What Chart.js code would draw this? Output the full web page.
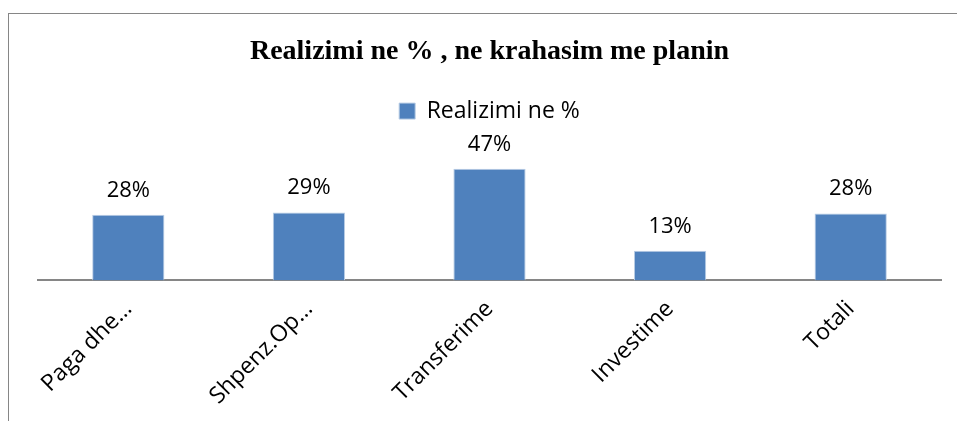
<!DOCTYPE html>
<html>
<head>
<meta charset="utf-8">
<script src="https://cdn.jsdelivr.net/npm/chart.js@4/dist/chart.umd.min.js"></script>
<style>
  html, body { margin: 0; padding: 0; background: #fff; }
  #wrap { position: relative; width: 957px; height: 421px; overflow: hidden; }
  /* chart frame: only top and left edges are inside the picture */
  #frame { position: absolute; left: 8px; top: 13px; width: 1000px; height: 500px;
           border-top: 1px solid #868686; border-left: 1px solid #868686; }
  #chart { position: absolute; left: 0; top: 0; }
</style>
</head>
<body>
<div id="wrap">
  <div id="frame"></div>
  <canvas id="chart" width="957" height="421"></canvas>
</div>
<script>
// ── data ──
const categories = ['Paga dhe…', 'Shpenz.Op…', 'Transferime', 'Investime', 'Totali'];
const realizimi = [27.6, 28.6, 47, 12.5, 28.2];
const seriesName = 'Realizimi ne %';
const chartTitle = 'Realizimi ne % , ne krahasim me planin';

const BAR = '#4f81bd';
const SANS = '"Open Sans", "Noto Sans", sans-serif';

// value labels above each bar
const barLabels = {
  id: 'barLabels',
  afterDatasetsDraw(chart) {
    const ctx = chart.ctx;
    const meta = chart.getDatasetMeta(0);
    ctx.save();
    ctx.font = '22px ' + SANS;
    ctx.fillStyle = '#000';
    ctx.textAlign = 'center';
    ctx.textBaseline = 'alphabetic';
    meta.data.forEach((bar, i) => {
      ctx.fillText(Math.round(realizimi[i]) + '%', bar.x, bar.y - 18);
    });
    ctx.restore();
  }
};

// extra room under the legend before the plot starts
const legendGap = {
  id: 'legendGap',
  beforeInit(chart) {
    const fit = chart.legend.fit;
    chart.legend.fit = function () {
      fit.call(this);
      this.height += 29;
    };
  }
};

new Chart(document.getElementById('chart'), {
  type: 'bar',
  data: {
    labels: categories,
    datasets: [{
      label: seriesName,
      data: realizimi,
      backgroundColor: BAR,
      borderColor: '#b9cde5',
      borderWidth: 1,
      categoryPercentage: 1,
      barPercentage: 0.4
    }]
  },
  options: {
    responsive: false,
    animation: false,
    layout: { padding: { left: 38, right: 16, top: 0, bottom: -4 } },
    plugins: {
      title: {
        display: true,
        text: chartTitle,
        color: '#000',
        font: { family: '"Liberation Serif", "Times New Roman", serif', size: 28, weight: 'bold' },
        padding: { top: 35, bottom: 25 }
      },
      legend: {
        display: true,
        labels: {
          color: '#000',
          font: { family: SANS, size: 23 },
          boxWidth: 16, boxHeight: 16,
          padding: 6
        }
      },
      tooltip: { enabled: false }
    },
    scales: {
      x: {
        grid: { display: false, drawTicks: false },
        border: { color: '#868686', width: 2 },
        ticks: {
          color: '#000',
          font: { family: SANS, size: 23 },
          minRotation: 45, maxRotation: 45,
          padding: 15,
          autoSkip: false
        }
      },
      y: {
        display: false,
        min: 0, max: 50
      }
    }
  },
  plugins: [barLabels, legendGap]
});
</script>
</body>
</html>
